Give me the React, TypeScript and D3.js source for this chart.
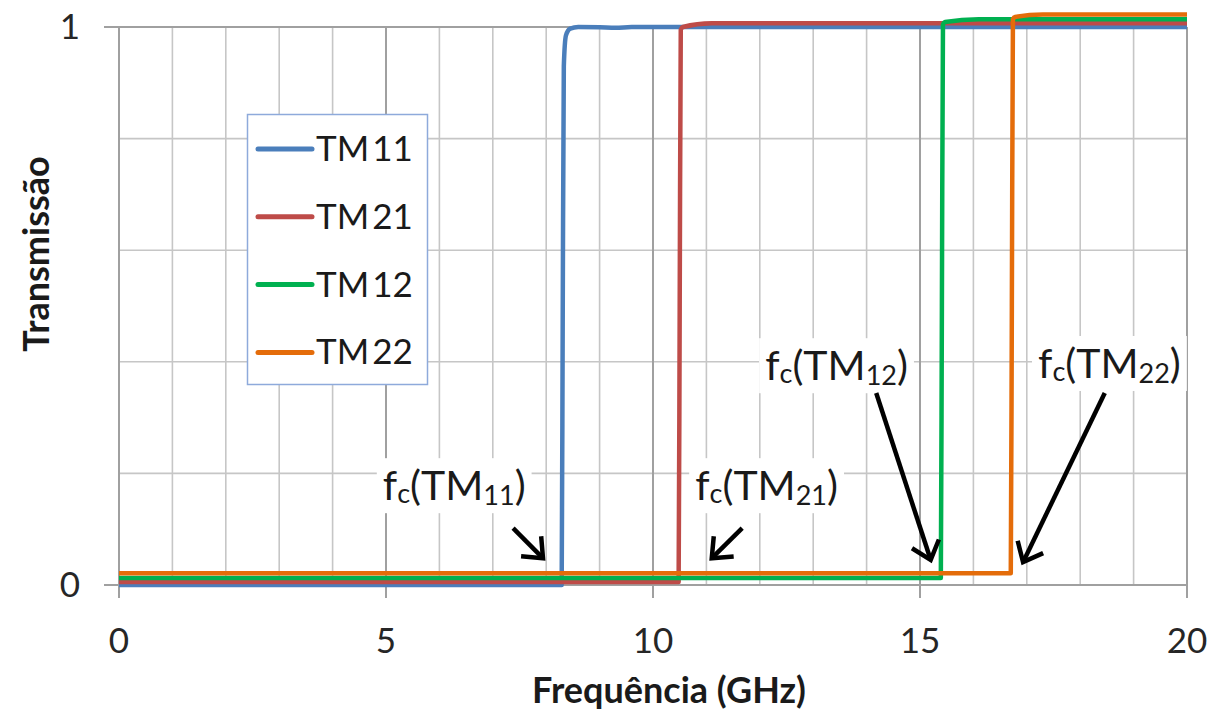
import React, { useRef, useEffect } from 'react';
import * as d3 from 'd3';

// series (frequency in GHz, transmission)
const seriesNames = ['TM11', 'TM21', 'TM12', 'TM22'];
const seriesColors = ['#4A7EBB', '#BE4B48', '#00B050', '#E46C0A'];

const freqTM11 = [0, 8.29, 8.31, 8.33, 8.37, 8.45, 8.6, 9.0, 9.3, 9.6, 10, 20];
const transTM11 = [0, 0, 0.5, 0.93, 0.985, 0.997, 1.0, 0.9995, 0.9985, 1.0, 1.0, 1.0];

const freqTM21 = [0, 10.48, 10.5, 10.52, 10.56, 11.1, 20];
const transTM21 = [0.0055, 0.0055, 0.5, 0.995, 1.0, 1.0066, 1.0066];

const freqTM12 = [0, 15.39, 15.41, 15.43, 15.47, 16.1, 20];
const transTM12 = [0.0125, 0.0125, 0.5, 1.004, 1.009, 1.0138, 1.0138];

const freqTM22 = [0, 16.7, 16.72, 16.74, 16.78, 17.3, 20];
const transTM22 = [0.021, 0.021, 0.5, 1.014, 1.018, 1.0226, 1.0226];

const seriesFreq = [freqTM11, freqTM21, freqTM12, freqTM22];
const seriesTrans = [transTM11, transTM21, transTM12, transTM22];

const xTicks = [0, 5, 10, 15, 20];
const xMinor = [1, 2, 3, 4, 6, 7, 8, 9, 11, 12, 13, 14, 16, 17, 18, 19];
const yTicks = [0, 1];
const yMinor = [0.2, 0.4, 0.6, 0.8];

// cutoff annotations: label anchor + arrow (data units)
const annotMode = ['11', '21', '12', '22'];
const annotLabelX = [4.94, 10.79, 12.1, 17.21];
const annotLabelY = [0.152, 0.152, 0.367, 0.371];
const arrowFromX = [7.38, 11.67, 14.18, 18.46];
const arrowFromY = [0.102, 0.102, 0.344, 0.344];
const arrowToX = [7.94, 11.1, 15.2, 16.93];
const arrowToY = [0.048, 0.048, 0.045, 0.041];

const W = 1215;
const H = 713;
const FONT = 'Lato, "Open Sans", sans-serif';

const App = () => {
  const svgRef = useRef<SVGSVGElement>(null);

  useEffect(() => {
    const svg = d3.select(svgRef.current);
    svg.selectAll('*').remove();

    const x = d3.scaleLinear().domain([0, 20]).range([119, 1187]);
    const y = d3.scaleLinear().domain([0, 1]).range([585, 27]);

    // gridlines
    const grid = svg.append('g');
    grid.selectAll('.vminor')
      .data(xMinor)
      .enter().append('line')
      .attr('x1', d => x(d)).attr('x2', d => x(d))
      .attr('y1', y(0)).attr('y2', y(1))
      .attr('stroke', '#c6c6c6').attr('stroke-width', 1.6);
    grid.selectAll('.hminor')
      .data(yMinor)
      .enter().append('line')
      .attr('x1', x(0)).attr('x2', x(20))
      .attr('y1', d => y(d)).attr('y2', d => y(d))
      .attr('stroke', '#c6c6c6').attr('stroke-width', 1.6);
    grid.selectAll('.vmajor')
      .data(xTicks)
      .enter().append('line')
      .attr('x1', d => x(d)).attr('x2', d => x(d))
      .attr('y1', y(1)).attr('y2', y(0) + 13)
      .attr('stroke', '#a0a0a0').attr('stroke-width', 2);
    grid.selectAll('.hmajor')
      .data(yTicks)
      .enter().append('line')
      .attr('x1', x(0) - 15).attr('x2', x(20))
      .attr('y1', d => y(d)).attr('y2', d => y(d))
      .attr('stroke', '#a0a0a0').attr('stroke-width', 2);

    // tick labels
    svg.append('g').selectAll('text')
      .data(xTicks)
      .enter().append('text')
      .attr('x', d => x(d)).attr('y', 653)
      .attr('text-anchor', 'middle')
      .attr('font-family', FONT).attr('font-size', 35).attr('fill', '#262626')
      .text(d => d);
    svg.append('g').selectAll('text')
      .data(yTicks)
      .enter().append('text')
      .attr('x', 80).attr('y', d => y(d) + 12)
      .attr('text-anchor', 'end')
      .attr('font-family', FONT).attr('font-size', 35).attr('fill', '#262626')
      .text(d => d);

    // axis titles
    svg.append('text')
      .attr('x', 669).attr('y', 703)
      .attr('text-anchor', 'middle')
      .attr('font-family', FONT).attr('font-weight', 'bold').attr('font-size', 36)
      .attr('fill', '#1a1a1a')
      .text('Frequência (GHz)');
    svg.append('text')
      .attr('transform', 'translate(49,254) rotate(-90)')
      .attr('text-anchor', 'middle')
      .attr('font-family', FONT).attr('font-weight', 'bold').attr('font-size', 36)
      .attr('fill', '#1a1a1a')
      .text('Transmissão');

    // curves
    const line = d3.line<[number, number]>()
      .x(d => x(d[0]))
      .y(d => y(d[1]))
      .curve(d3.curveMonotoneX);
    seriesNames.forEach((name, i) => {
      const pts = seriesFreq[i].map((f, j) => [f, seriesTrans[i][j]] as [number, number]);
      svg.append('path')
        .datum(pts)
        .attr('d', line)
        .attr('fill', 'none')
        .attr('stroke', seriesColors[i])
        .attr('stroke-width', 4.5)
        .attr('stroke-linejoin', 'round');
    });

    // legend
    const lg = svg.append('g');
    lg.append('rect')
      .attr('x', 247.5).attr('y', 114.5).attr('width', 180).attr('height', 270)
      .attr('fill', '#fff').attr('stroke', '#8eaadb').attr('stroke-width', 1.5);
    seriesNames.forEach((name, i) => {
      const ly = 149 + i * 67.8;
      lg.append('line')
        .attr('x1', 258).attr('x2', 312).attr('y1', ly).attr('y2', ly)
        .attr('stroke', seriesColors[i]).attr('stroke-width', 5).attr('stroke-linecap', 'round');
      const t = lg.append('text')
        .attr('x', 316).attr('y', ly + 12)
        .attr('font-family', FONT).attr('font-size', 35).attr('fill', '#1a1a1a');
      t.append('tspan').text(name.slice(0, 2));
      t.append('tspan').attr('dx', 3).text(name.slice(2));
    });

    // annotations
    const an = svg.append('g');
    annotMode.forEach((m, i) => {
      const g = an.append('g');
      const rect = g.append('rect').attr('fill', '#fff');
      const t = g.append('text')
        .attr('x', x(annotLabelX[i])).attr('y', y(annotLabelY[i]))
        .attr('font-family', FONT).attr('font-size', 41).attr('fill', '#1a1a1a');
      t.append('tspan').text('f');
      t.append('tspan').attr('font-size', 27).attr('dy', 3).text('c');
      t.append('tspan').attr('dy', -3).text('(TM');
      t.append('tspan').attr('font-size', 27).attr('dy', 5).text(m);
      t.append('tspan').attr('dy', -5).text(')');
      const bb = (t.node() as SVGTextElement).getBBox();
      rect.attr('x', bb.x - 6).attr('y', bb.y - 2)
        .attr('width', bb.width + 12).attr('height', bb.height + 4);

      // arrow
      const x0 = x(arrowFromX[i]), y0 = y(arrowFromY[i]);
      const x1 = x(arrowToX[i]), y1 = y(arrowToY[i]);
      const ang = Math.atan2(y1 - y0, x1 - x0);
      const len = 22, spread = Math.PI / 4.5;
      const w1: [number, number] = [x1 - len * Math.cos(ang - spread), y1 - len * Math.sin(ang - spread)];
      const w2: [number, number] = [x1 - len * Math.cos(ang + spread), y1 - len * Math.sin(ang + spread)];
      const ax = an.append('g').attr('stroke', '#000').attr('stroke-width', 4.5).attr('fill', 'none');
      ax.append('path').attr('d', `M${x0},${y0}L${x1 - 3 * Math.cos(ang)},${y1 - 3 * Math.sin(ang)}`);
      ax.append('path').attr('d', `M${w1[0]},${w1[1]}L${x1},${y1}L${w2[0]},${w2[1]}`)
        .attr('stroke-linejoin', 'miter');
    });
  }, []);

  return (
    <svg
      ref={svgRef}
      width={W}
      height={H}
      style={{ position: 'absolute', left: 0, top: 0, background: '#fff' }}
    />
  );
};

export default App;
